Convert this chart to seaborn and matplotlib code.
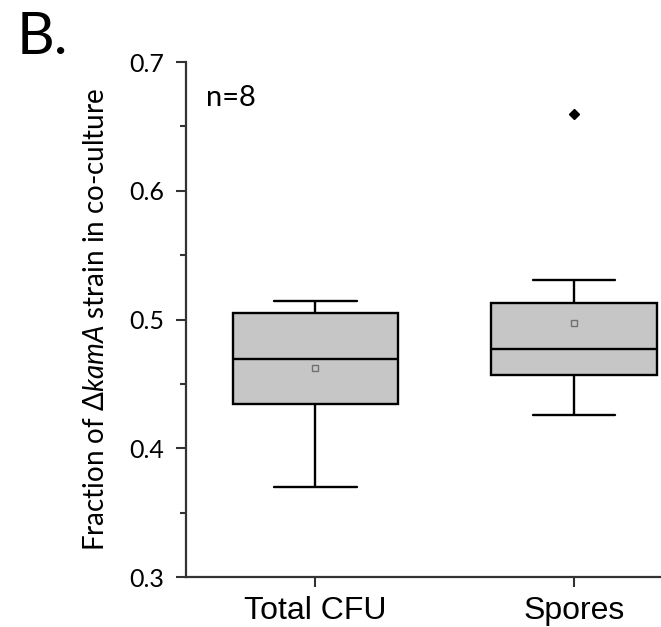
import numpy as np
import pandas as pd
import matplotlib
matplotlib.use("Agg")
import matplotlib.pyplot as plt
from matplotlib.ticker import MultipleLocator
import seaborn as sns

# values (n=8 per group)
groups = ["Total CFU", "Spores"]
total_cfu = [0.370, 0.422, 0.438, 0.462, 0.476, 0.503, 0.511, 0.514]
spores = [0.426, 0.433, 0.465, 0.470, 0.484, 0.507, 0.531, 0.660]

df = pd.DataFrame({
    "group": [groups[0]] * len(total_cfu) + [groups[1]] * len(spores),
    "value": total_cfu + spores,
})

sns.set_style("ticks")
plt.rcParams["font.family"] = ["Lato", "DejaVu Sans"]
plt.rcParams["text.color"] = "black"
plt.rcParams["axes.labelcolor"] = "black"
plt.rcParams["xtick.color"] = "black"
plt.rcParams["ytick.color"] = "black"
plt.rcParams["mathtext.fontset"] = "custom"
plt.rcParams["mathtext.rm"] = "Lato"
plt.rcParams["mathtext.it"] = "Lato:italic"

fig = plt.figure(figsize=(6.61, 6.27), dpi=100)
ax = fig.add_axes([0.2814, 0.0797, 0.7186, 0.8214])

sns.boxplot(
    x="group", y="value", data=df, order=groups, ax=ax,
    color="#c6c6c6", saturation=1, width=0.64,
    linecolor="black", linewidth=1.7,
    showmeans=True,
    meanprops=dict(marker="s", markerfacecolor="none",
                   markeredgecolor="#707070", markersize=5, markeredgewidth=1),
    flierprops=dict(marker="D", markerfacecolor="black",
                    markeredgecolor="black", markersize=5),
)

ax.set_ylim(0.3, 0.7)
ax.set_xlim(-0.5, 1.336)
ax.yaxis.set_major_locator(MultipleLocator(0.1))
ax.yaxis.set_minor_locator(MultipleLocator(0.05))
ax.tick_params(axis="both", which="major", direction="out", length=7,
               width=1.5, color="#333333", labelsize=18, pad=9)
ax.tick_params(axis="y", which="minor", direction="out", length=4,
               width=1.5, color="#333333")
for lab in ax.get_xticklabels():
    lab.set_family(["Liberation Sans", "DejaVu Sans"])
    lab.set_fontsize(23)
ax.tick_params(axis="x", pad=7)
for side in ["left", "bottom"]:
    ax.spines[side].set_linewidth(1.6)
    ax.spines[side].set_color("#333333")
sns.despine(ax=ax)

ax.set_xlabel("")
ax.set_ylabel(r"Fraction of $\Delta\mathit{kamA}$ strain in co-culture",
              fontsize=20, labelpad=14)

ax.text(0.042, 0.93, "n=8", transform=ax.transAxes, fontsize=21, va="center")
fig.text(0.025, 0.94, "B.", fontsize=42, va="center")

fig.savefig("out.png", dpi=100)
